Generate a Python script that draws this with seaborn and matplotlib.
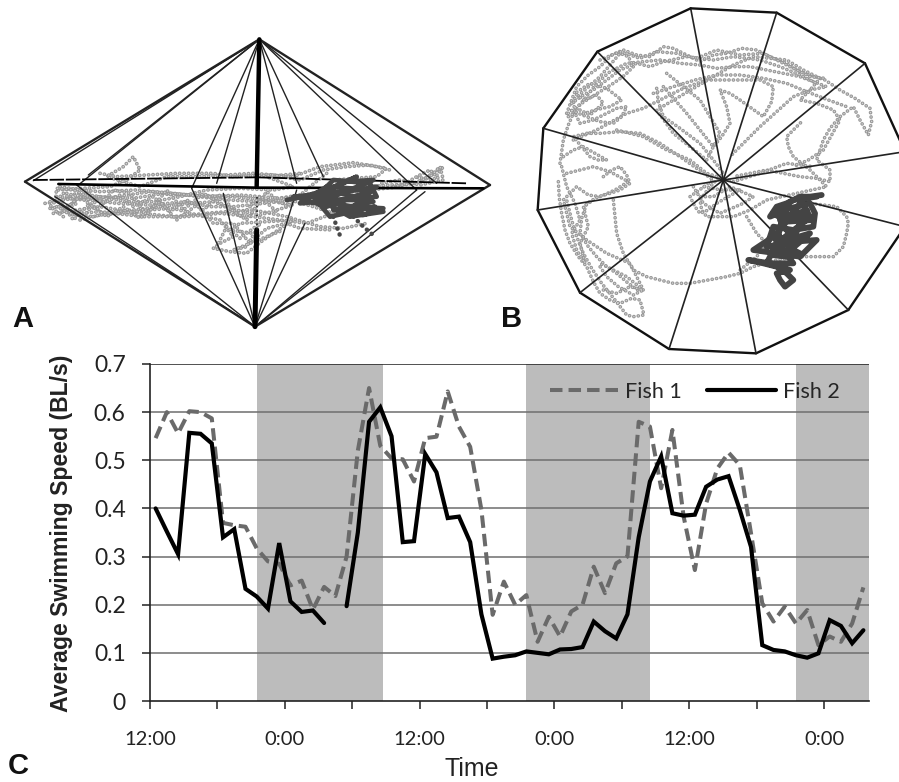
import matplotlib
matplotlib.use('Agg')
import matplotlib.pyplot as plt
import seaborn as sns
import numpy as np
import pandas as pd
from matplotlib.lines import Line2D

# panel C values, one reading per hour
fish1 = [0.546, 0.600, 0.556, 0.602, 0.600, 0.587, 0.370, 0.365, 0.362, 0.317, 0.290, 0.285, 0.240, 0.250, 0.190, 0.237,
         0.218, 0.300, 0.520, 0.650, 0.530, 0.504, 0.502, 0.456, 0.546, 0.549, 0.643, 0.570, 0.528, 0.397, 0.179, 0.248,
         0.200, 0.220, 0.123, 0.175, 0.134, 0.186, 0.200, 0.279, 0.224, 0.286, 0.300, 0.580, 0.570, 0.442, 0.563, 0.383,
         0.272, 0.410, 0.483, 0.516, 0.490, 0.348, 0.203, 0.165, 0.196, 0.161, 0.189, 0.116, 0.134, 0.123, 0.161, 0.236]
fish2 = [0.400, 0.352, 0.305, 0.557, 0.555, 0.535, 0.340, 0.357, 0.233, 0.217, 0.192, 0.328, 0.207, 0.185, 0.188, 0.162,
         np.nan, 0.197, 0.350, 0.580, 0.610, 0.550, 0.330, 0.332, 0.513, 0.475, 0.380, 0.383, 0.330, 0.180, 0.088, 0.092,
         0.095, 0.103, 0.100, 0.097, 0.107, 0.108, 0.112, 0.165, 0.145, 0.130, 0.180, 0.340, 0.456, 0.508, 0.390, 0.385,
         0.387, 0.445, 0.460, 0.467, 0.397, 0.320, 0.116, 0.106, 0.103, 0.095, 0.090, 0.099, 0.168, 0.156, 0.120, 0.147]
dark_bands = [(9.5, 20.7), (33.5, 44.55), (57.5, 64)]
x_ticks = [0, 6, 12, 18, 24, 30, 36, 42, 48, 54, 60]
x_labels = ['12:00', '', '0:00', '', '12:00', '', '0:00', '', '12:00', '', '0:00']
y_ticks = [0, 0.1, 0.2, 0.3, 0.4, 0.5, 0.6, 0.7]
y_labels = ['0', '0.1', '0.2', '0.3', '0.4', '0.5', '0.6', '0.7']

# panel A wire frame, read in crop pixels
a_top = (778, 58)
a_bottom = (765, 920)
a_top_feet = [(75, 485), (100, 482), (235, 495), (265, 465), (575, 505), (650, 490), (890, 490), (970, 470),
              (1250, 510), (1310, 490), (1470, 495)]
a_bottom_feet = [(75, 485), (165, 530), (230, 495), (575, 505), (670, 520), (890, 510), (915, 610), (1250, 510),
                 (1275, 515), (1470, 495)]
a_mid_thick = [(175, 492), (770, 503), (1450, 505)]
a_mid_dash = [(100, 480), (770, 472), (1400, 490)]

a_gray = [
    [(135, 550), (175, 545), (230, 520), (300, 530), (400, 535), (480, 522), (560, 525), (660, 538), (770, 545), (900, 525), (1000, 510), (1100, 500), (1250, 490), (1330, 440), (1300, 480), (1240, 470)],
    [(160, 580), (230, 570), (300, 560), (410, 578), (520, 590), (640, 578), (760, 570), (860, 590), (960, 620), (1030, 625), (1100, 610)],
    [(175, 510), (250, 505), (330, 500), (380, 480), (420, 450), (400, 410), (370, 440), (320, 470), (420, 500), (500, 470), (600, 470), (680, 465), (760, 460), (880, 470), (960, 440), (1060, 428), (1160, 445), (1130, 470), (1000, 480)],
    [(170, 560), (220, 585), (280, 590), (340, 575), (400, 570), (520, 555), (640, 545), (710, 570), (780, 585), (880, 555), (790, 540), (700, 530), (570, 525), (450, 515), (350, 530), (250, 540), (180, 530)],
    [(240, 600), (300, 585), (360, 580), (440, 570), (520, 565), (590, 585), (660, 600), (700, 650), (660, 670), (640, 685), (690, 695), (740, 700), (790, 660), (880, 600), (800, 605), (720, 610), (690, 630), (760, 640)],
    [(150, 545), (225, 535), (300, 530), (380, 545), (460, 545), (540, 530), (620, 510), (720, 505), (820, 510), (880, 500), (800, 470), (900, 460)],
    [(200, 520), (270, 540), (350, 550), (450, 555), (560, 545), (630, 560), (700, 560), (790, 550), (870, 540), (940, 560), (1000, 580), (920, 610), (840, 600), (760, 590), (660, 580), (560, 590), (430, 590), (300, 575), (240, 580), (190, 570)],
    [(180, 500), (240, 510), (300, 515), (410, 510), (520, 520), (620, 530), (720, 525), (840, 535), (1020, 520), (1200, 500), (1250, 470), (1290, 450), (1320, 480)],
    [(150, 565), (210, 555), (260, 515), (310, 550), (360, 525), (400, 560), (460, 530), (510, 575), (560, 540), (610, 570), (660, 525), (720, 590), (780, 530), (830, 575)],
    [(170, 530), (220, 600), (270, 550), (320, 590), (370, 560), (420, 595), (480, 545), (530, 600), (590, 555), (640, 610), (700, 610), (750, 670), (800, 625), (860, 610), (900, 625), (1000, 630)],
    [(180, 580), (240, 530), (290, 570), (340, 510), (390, 520), (440, 585), (500, 510), (550, 570), (610, 520), (680, 560), (740, 600), (800, 515), (860, 560), (930, 500), (980, 460)],
    [(650, 680), (680, 620), (720, 655), (780, 610), (740, 680), (700, 690), (800, 650), (850, 630)],
    [(300, 460), (350, 470), (440, 465), (530, 460), (640, 460), (700, 470), (820, 465), (900, 480), (970, 450), (1040, 440), (1110, 435), (1170, 450)],
    [(1180, 500), (1240, 490), (1290, 470), (1320, 440), (1330, 480), (1260, 495), (1200, 480), (1140, 490)],
    [(190, 590), (150, 560), (190, 520), (230, 550), (190, 575), (250, 590), (290, 540), (220, 510), (170, 505), (165, 550)],
]
a_dark = [(860, 540), (960, 520), (1000, 480), (1110, 490), (1130, 530), (900, 550), (980, 500), (1120, 510), (1000, 550),
          (1150, 575), (1050, 590), (960, 540), (1100, 540), (1020, 580), (1125, 560), (990, 590), (940, 530), (1040, 485),
          (1120, 480), (1000, 530), (880, 530), (1040, 515), (1130, 500), (1060, 560), (1150, 565), (1090, 585), (1000, 570),
          (1120, 545), (980, 510), (1070, 470), (1005, 500), (900, 535), (980, 560), (1050, 535)]
a_dark_tails = [
    [(1000, 590), (1010, 620), (1025, 660)],
    [(1060, 590), (1090, 620), (1125, 650)],
]

# panel B wire frame
b_center = (670, 540)
b_rim = [(572, 25), (830, 38), (1095, 190), (1215, 455), (1215, 680), (1045, 930), (768, 1060), (507, 1047), (240, 878),
         (113, 630), (130, 385), (292, 155)]
b_gray = [
    [(200, 340), (215, 300), (230, 260), (265, 225), (300, 200), (335, 165), (370, 150), (410, 165), (450, 170), (490, 140), (520, 145), (560, 165), (600, 185), (640, 165), (680, 160), (725, 145), (770, 150), (810, 170), (850, 185), (900, 215), (975, 240), (1020, 270), (1065, 295), (1110, 325), (1115, 365), (1105, 405), (1080, 360), (1060, 320), (1020, 350), (990, 385), (970, 420), (950, 480), (990, 510), (990, 545), (950, 535), (900, 530), (800, 510), (700, 530)],
    [(180, 490), (190, 420), (205, 375), (220, 340), (255, 295), (290, 250), (330, 215), (380, 190), (430, 185), (480, 180), (540, 190), (600, 195), (650, 205), (700, 200), (750, 200), (800, 210), (850, 220), (900, 230), (980, 260), (930, 270), (880, 290), (830, 335), (780, 380), (735, 425), (690, 470)],
    [(175, 545), (178, 595), (185, 640), (195, 690), (210, 730), (235, 770), (260, 800), (280, 845), (300, 880), (330, 900), (360, 910), (395, 895), (420, 900), (432, 945), (400, 950), (380, 945), (345, 900), (305, 850), (275, 805), (250, 760), (230, 710), (215, 660), (200, 600)],
    [(340, 600), (345, 650), (350, 700), (370, 760), (400, 810), (440, 830), (480, 840), (520, 850), (570, 850), (625, 840), (680, 830), (720, 820), (760, 800), (830, 780), (900, 770), (950, 770), (1000, 770), (1030, 740), (1040, 700), (1045, 670), (1040, 650), (1010, 620), (970, 615), (930, 610)],
    [(470, 265), (475, 305), (490, 350), (540, 385), (600, 430), (640, 480), (670, 520), (630, 560), (600, 600), (605, 630), (620, 650), (660, 650), (700, 650), (750, 630), (800, 600), (890, 580), (980, 560), (930, 510), (880, 470), (865, 440), (860, 410), (885, 385), (910, 360)],
    [(490, 260), (525, 300), (560, 340), (600, 390), (640, 440), (665, 410), (690, 370), (680, 320), (660, 270), (690, 280), (720, 300), (755, 325), (790, 350), (815, 305), (820, 260), (780, 240), (700, 240), (620, 240), (550, 265), (480, 300), (430, 325), (380, 340), (335, 365), (290, 390), (220, 420)],
    [(200, 520), (240, 510), (280, 500), (330, 515), (385, 545), (345, 570), (300, 590), (265, 585), (230, 560), (190, 600), (200, 640), (210, 680), (235, 700), (260, 720), (290, 740), (320, 760), (355, 775), (390, 790), (410, 830), (430, 870), (405, 850), (380, 830), (340, 810), (300, 790)],
    [(205, 340), (230, 320), (260, 300), (300, 275), (340, 250), (375, 225), (400, 200), (385, 170), (360, 160), (330, 195), (300, 230), (260, 265), (220, 300), (225, 340), (240, 370), (280, 360), (320, 340), (350, 325), (380, 320), (365, 350), (340, 370), (300, 365), (260, 350), (210, 330)],
    [(190, 470), (220, 450), (250, 440), (285, 460), (320, 480), (295, 480), (270, 470), (245, 440), (220, 410), (260, 400), (300, 400), (360, 395), (420, 400), (480, 430), (540, 470), (590, 505), (640, 540), (605, 565), (570, 590), (585, 620), (600, 640), (625, 630), (650, 610), (685, 590), (720, 570), (665, 570), (610, 560)],
    [(500, 220), (550, 260), (600, 300), (630, 350), (660, 400), (640, 440), (620, 480), (570, 440), (520, 400), (495, 365), (470, 330), (555, 280), (640, 230), (700, 195), (760, 170), (810, 175), (860, 180), (910, 210), (960, 235), (930, 270), (900, 300), (950, 310), (1000, 330), (1020, 360), (995, 405), (970, 450), (925, 480), (880, 500)],
    [(310, 530), (335, 510), (360, 500), (380, 525), (390, 550), (360, 570), (330, 580), (295, 590), (260, 610), (245, 655), (240, 700), (265, 740), (290, 770), (320, 800), (350, 820), (385, 850), (420, 875)],
    [(215, 310), (250, 285), (280, 270), (320, 240), (360, 210), (410, 190), (450, 200), (490, 185), (560, 170), (640, 180), (700, 170), (780, 180), (840, 200), (900, 225), (950, 250)],
    [(300, 180), (360, 155), (420, 175), (470, 155), (530, 160), (590, 175), (650, 150), (720, 165), (790, 160), (860, 195), (930, 230), (975, 235)],
    [(205, 350), (240, 330), (270, 345), (310, 310), (290, 285), (250, 300), (225, 280), (270, 250), (320, 265), (365, 300), (330, 320), (285, 330), (240, 345)],
    [(185, 500), (200, 560), (225, 610), (240, 660), (215, 700), (230, 750), (255, 790), (240, 730), (265, 680), (250, 620), (280, 600)],
    [(350, 390), (430, 410), (500, 450), (570, 480), (620, 520), (700, 545), (780, 520), (860, 490), (940, 500)],
    [(580, 560), (610, 610), (660, 640), (730, 610), (760, 590), (690, 560), (640, 590), (600, 590)],
    [(460, 280), (520, 260), (585, 240), (650, 225), (720, 225), (790, 235), (860, 250), (920, 275), (985, 300), (1040, 320)],
    [(740, 650), (770, 700), (800, 730), (770, 770), (720, 810)],
    [(310, 870), (350, 880), (390, 860), (430, 870), (400, 885), (355, 860), (320, 830), (300, 800)],
]
b_dark = [(965, 585), (930, 590), (900, 590), (860, 610), (830, 620), (810, 650), (870, 625), (930, 610), (945, 640), (940, 680),
          (880, 690), (820, 680), (810, 710), (800, 740), (880, 725), (950, 720), (925, 745), (900, 770), (830, 760), (760, 750),
          (790, 730), (820, 710), (850, 750), (880, 790), (810, 790), (745, 780), (790, 790), (830, 800), (860, 820), (880, 840),
          (855, 860), (840, 840), (830, 820), (870, 810), (800, 790), (830, 730), (850, 640), (885, 650), (920, 660), (875, 695),
          (830, 730), (880, 715), (930, 700), (895, 730), (860, 760), (890, 695), (920, 630), (880, 645), (840, 660), (860, 690),
          (880, 720), (850, 735), (815, 765), (860, 770), (900, 760), (870, 745), (830, 700), (905, 605), (935, 660), (860, 665), (820, 640),
          (880, 600), (950, 590)]


def wire(ax, p0, p1, lw=1.1, color='#222222', **kws):
    sns.lineplot(x=[p0[0], p1[0]], y=[p0[1], p1[1]], ax=ax, color=color, lw=lw, sort=False, estimator=None, **kws)


def beads(ax, pts, color, lw, period=3.2):
    # round caps on very short dashes, the dash list is scaled by lw
    pts = np.array(pts)
    sns.lineplot(x=pts[:, 0], y=pts[:, 1], ax=ax, color=color, lw=lw, sort=False, estimator=None,
                 linestyle=(0, (0.05, period / lw - 0.05)), dash_capstyle='round')


def chain(ax, pts, lw):
    # grey ring with a pale middle, like the tracks in the original
    beads(ax, pts, '#989898', lw)
    beads(ax, pts, '#d4d4d4', lw * 0.42)


def blob(ax, pts, color, lw):
    pts = np.array(pts)
    sns.lineplot(x=pts[:, 0], y=pts[:, 1], ax=ax, color=color, lw=lw, sort=False, estimator=None)


sns.set_theme(style='white')
plt.rcParams['font.family'] = ['Lato', 'DejaVu Sans']
fig = plt.figure(figsize=(8.99, 7.82), dpi=100)
W, H = 899.0, 782.0

# panel A
ax_a = fig.add_axes([0, 1 - 340 / H, 500 / W, 320 / H])
ax_a.set_xlim(0, 1500)
ax_a.set_ylim(960, 0)
ax_a.axis('off')
for pts in a_gray:
    chain(ax_a, pts, 2.7)
for foot in a_top_feet:
    wire(ax_a, a_top, foot, lw=1.7 if foot in [(75, 485), (1470, 495)] else 1.0)
for foot in a_bottom_feet:
    wire(ax_a, a_bottom, foot, lw=1.7 if foot in [(75, 485), (1470, 495)] else 1.0)
wire(ax_a, a_top, (770, 500), lw=3.2, color='black')
wire(ax_a, (770, 630), a_bottom, lw=3.6, color='black')
wire(ax_a, (770, 530), (770, 630), lw=1.2, linestyle=':')
for i in range(2):
    wire(ax_a, a_mid_thick[i], a_mid_thick[i + 1], lw=1.9, color='black')
    wire(ax_a, a_mid_dash[i], a_mid_dash[i + 1], lw=1.3, color='black', linestyle=(0, (8, 1)))
blob(ax_a, a_dark, '#484848', 3.4)
for tail in a_dark_tails:
    beads(ax_a, tail, '#484848', 3.2, period=4.5)

# panel B
ax_b = fig.add_axes([500 / W, 1 - 360 / H, 399 / W, 360 / H])
ax_b.set_xlim(0, 1197)
ax_b.set_ylim(1080, 0)
ax_b.axis('off')
for pts in b_gray:
    chain(ax_b, pts, 2.6)
for i, p in enumerate(b_rim):
    wire(ax_b, p, b_rim[(i + 1) % len(b_rim)], lw=1.7, color='#111111')
    wire(ax_b, b_center, p, lw=1.2)
blob(ax_b, b_dark, '#444444', 4.2)

# panel C
ax = fig.add_axes([150 / W, 1 - 701 / H, 719 / W, 337 / H])
hours = np.arange(len(fish1)) + 0.5
df = pd.DataFrame({'hours': hours, 'fish1': fish1, 'fish2': fish2})
for start, stop in dark_bands:
    ax.axvspan(start, stop, color='#bcbcbc', lw=0, zorder=0)
ax.set_axisbelow(False)
for y in y_ticks[1:]:
    ax.axhline(y, color='#6e6e6e' if y < 0.7 else '#222222', lw=1.1, zorder=1)
sns.lineplot(data=df, x='hours', y='fish1', ax=ax, color='#6a6a6a', lw=2.9, estimator=None,
             linestyle=(0, (3.1, 1.5)), zorder=3)
# fish 2 has a hole at one reading, so the two runs are drawn apart
gap = df['fish2'].isna().idxmax()
for part in [df.iloc[:gap], df.iloc[gap + 1:]]:
    sns.lineplot(data=part, x='hours', y='fish2', ax=ax, color='black', lw=3.0, estimator=None, zorder=4,
                 solid_joinstyle='miter')

ax.set_xlim(0, 64)
ax.set_ylim(0, 0.7)
ax.set_xticks(x_ticks)
ax.set_xticklabels(x_labels, fontsize=14.5, color='#222222')
ax.set_yticks(y_ticks)
ax.set_yticklabels(y_labels, fontsize=16.5, color='#222222')
ax.tick_params(axis='x', length=5.5, width=1.1, color='#222222', pad=16, bottom=True, direction='out')
ax.tick_params(axis='y', length=5.5, width=1.1, color='#222222', pad=12, left=True, direction='out')
for name in ['top', 'right']:
    ax.spines[name].set_visible(False)
for name in ['left', 'bottom']:
    ax.spines[name].set_color('#222222')
    ax.spines[name].set_linewidth(1.2)
ax.set_xlabel('')
ax.set_ylabel('')

handles = [Line2D([], [], color='#6a6a6a', lw=2.9, linestyle=(0, (3.1, 1.5))),
           Line2D([], [], color='black', lw=3.0)]
ax.legend(handles, ['Fish 1', 'Fish 2'], ncol=2, frameon=False, fontsize=15.5, handlelength=3.2, handletextpad=0.3,
          columnspacing=1.2, loc='center right', bbox_to_anchor=(0.971, 0.918), borderaxespad=0)

fig.text(62 / W, 1 - 533 / H, 'Average Swimming Speed (BL/s)', rotation=90, ha='center', va='center',
         fontsize=16.6, fontweight='bold', family='Liberation Sans', color='#222222')
fig.text(472 / W, 1 - 776 / H, 'Time', ha='center', va='baseline', fontsize=18, family='Liberation Sans', color='#222222')
for label, lx, ly in [('A', 12, 319), ('B', 501, 319), ('C', 8, 766)]:
    fig.text(lx / W, 1 - ly / H, label, ha='left', va='center', fontsize=21, fontweight='bold',
             family='Liberation Sans', color='#111111')

fig.savefig('out.png', dpi=100)
